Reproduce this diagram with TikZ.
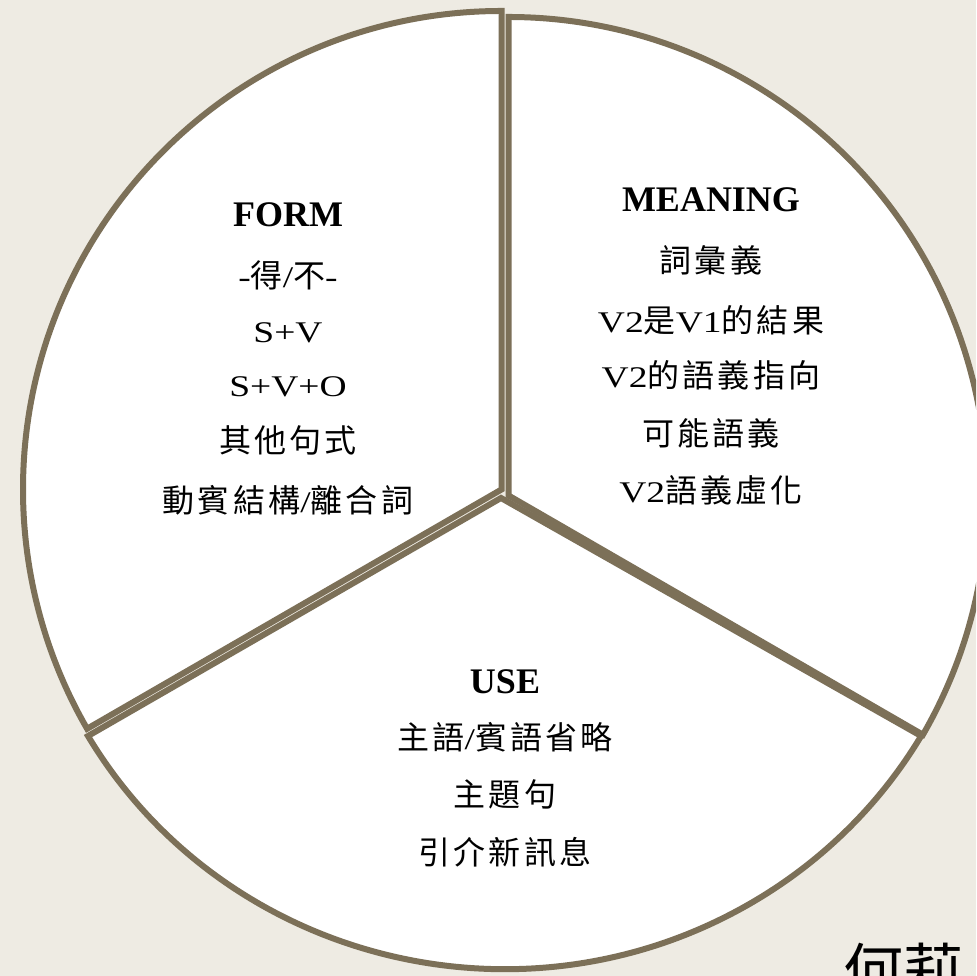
\documentclass[tikz,border=0pt]{standalone}
\usepackage{fontspec}
\setmainfont{Liberation Serif}
\newfontfamily\latfont[FakeStretch=1.25]{Liberation Serif}
\newfontfamily\cjkfont[LetterSpace=10]{Noto Sans CJK TC}
\newfontfamily\namefont{Noto Sans CJK TC}
\newcommand\La[1]{{\fontsize{30}{36}\latfont #1}}
\newcommand\Cj[1]{{\fontsize{32}{38}\cjkfont #1}}
\definecolor{bg}{HTML}{EEEBE3}
\definecolor{rim}{HTML}{7C7058}
\begin{document}
\begin{tikzpicture}[x=1pt,y=1pt,
  wedge/.style={fill=white,draw=rim,line width=6pt,line join=miter},
  head/.style={inner sep=0pt,anchor=base,font=\fontsize{36}{40}\selectfont\bfseries},
  item/.style={inner sep=0pt,anchor=base}]
\fill[bg] (0,0) rectangle (976,976);
\useasboundingbox (0,0) rectangle (976,976);
\clip (0,0) rectangle (976,976);
% wedges
\coordinate (fc) at (501.5,486.5);
\coordinate (mc) at (508.5,480.5);
\coordinate (ua) at (501,478);
\coordinate (ul) at (88,240);
\draw[wedge] (fc) -- ++(90:478.5) arc[start angle=90,end angle=210,radius=478.5] -- cycle;
\draw[wedge] (mc) -- ++(-30:478.5) arc[start angle=-30,end angle=90,radius=478.5] -- cycle;
\draw[wedge] (ua) -- (ul) arc[start angle=210.4,end angle=329.6,x radius=483,y radius=472] -- cycle;
% FORM
\node[head] (f0) at (288,749) {FORM};
\node[item] (f1) at (288,688) {\La{-}\Cj{得}\La{/}\Cj{不}\La{-}};
\node[item] (f2) at (288,633) {\La{S+V}};
\node[item] (f3) at (288,579) {\La{S+V+O}};
\node[item] (f4) at (288,523) {\Cj{其他句式}};
\node[item] (f5) at (288,463) {\Cj{動賓結構}\La{/}\Cj{離合詞}};
% MEANING
\node[head] (m0) at (711,764) {MEANING};
\node[item] (m1) at (711,703) {\Cj{詞彙義}};
\node[item] (m2) at (711,643) {\La{V2}\Cj{是}\La{V1}\Cj{的結果}};
\node[item] (m3) at (711,588) {\La{V2}\Cj{的語義指向}};
\node[item] (m4) at (711,530) {\Cj{可能語義}};
\node[item] (m5) at (711,473) {\La{V2}\Cj{語義虛化}};
% USE
\node[head] (u0) at (505,282) {USE};
\node[item] (u1) at (505,226) {\Cj{主語}\La{/}\Cj{賓語省略}};
\node[item] (u2) at (505,169) {\Cj{主題句}};
\node[item] (u3) at (505,111) {\Cj{引介新訊息}};
% author
\node[inner sep=0pt,anchor=base west,font=\fontsize{60}{70}\namefont] (name) at (843,-17) {何莉};
\end{tikzpicture}
\end{document}
